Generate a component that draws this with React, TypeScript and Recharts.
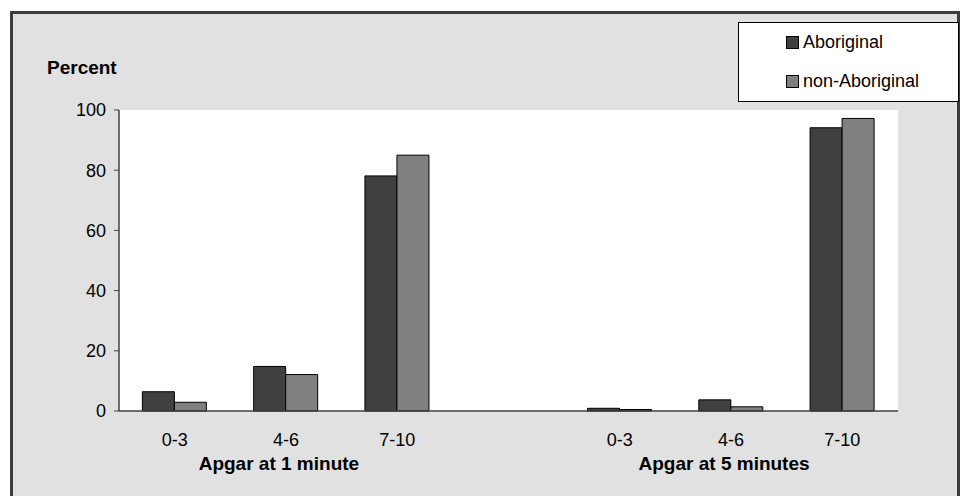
import { Bar, BarChart, CartesianGrid, XAxis, YAxis } from "recharts";

const categories = ["0-3", "4-6", "7-10", "", "0-3", "4-6", "7-10"];
const groupLabels = ["", "Apgar at 1 minute", "", "", "", "Apgar at 5 minutes", ""];
const aboriginal = [6.4, 14.8, 78.1, null, 0.9, 3.7, 94.1];
const nonAboriginal = [2.9, 12.1, 85.0, null, 0.5, 1.4, 97.2];
const yTicks = [0, 20, 40, 60, 80, 100];

const FONT = '"Liberation Sans", Arial, sans-serif';
const DARK = "#404040";
const LIGHT = "#808080";

const data = categories.map((c, i) => ({
  cat: c,
  group: groupLabels[i],
  aboriginal: aboriginal[i],
  nonAboriginal: nonAboriginal[i],
}));

const legendItems = [
  { label: "Aboriginal", color: DARK },
  { label: "non-Aboriginal", color: LIGHT },
];

function LegendBox() {
  return (
    <div
      style={{
        position: "absolute",
        left: 738,
        top: 22,
        width: 219,
        height: 78,
        border: "1px solid #000",
        background: "#fff",
        fontSize: 18,
        color: "#000",
      }}
    >
      {legendItems.map((it, i) => (
        <div
          key={it.label}
          style={{
            position: "absolute",
            left: 47,
            top: i === 0 ? 9 : 48,
            display: "flex",
            alignItems: "center",
            height: 20,
          }}
        >
          <span
            style={{
              display: "inline-block",
              width: 11,
              height: 11,
              background: it.color,
              border: "1px solid #000",
              marginRight: 4,
            }}
          />
          {it.label}
        </div>
      ))}
    </div>
  );
}

export default function App() {
  return (
    <div
      style={{
        position: "absolute",
        left: 0,
        top: 0,
        width: 960,
        height: 496,
        background: "#fff",
        overflow: "hidden",
        fontFamily: FONT,
      }}
    >
      <div
        style={{
          position: "absolute",
          left: 10,
          top: 11,
          width: 944,
          height: 500,
          background: "#e1e1e1",
          border: "3px solid #3c3c3c",
        }}
      />
      <div
        style={{
          position: "absolute",
          left: 47,
          top: 57,
          fontSize: 19,
          fontWeight: "bold",
          color: "#000",
        }}
      >
        Percent
      </div>
      <div style={{ position: "absolute", left: 0, top: 0 }}>
        <BarChart
          width={960}
          height={496}
          data={data}
          margin={{ top: 110, right: 62, left: 59, bottom: 21 }}
          barCategoryGap="21%"
          barGap={0}
        >
          <CartesianGrid fill="#fff" horizontal={false} vertical={false} />
          <XAxis
            dataKey="cat"
            interval={0}
            tickLine={false}
            tickSize={0}
            tickMargin={22}
            height={24}
            axisLine={{ stroke: DARK, strokeWidth: 1.5 }}
            tick={{ fill: "#000", fontSize: 18, fontFamily: FONT }}
          />
          <XAxis
            xAxisId="group"
            dataKey="group"
            interval={0}
            tickLine={false}
            axisLine={false}
            tickSize={0}
            tickMargin={22}
            height={40}
            dx={-7}
            tick={{ fill: "#000", fontSize: 19, fontWeight: "bold", fontFamily: FONT }}
          />
          <XAxis
            xAxisId="top"
            orientation="top"
            dataKey="cat"
            tick={false}
            tickLine={false}
            height={0}
            axisLine={{ stroke: LIGHT }}
          />
          <YAxis
            domain={[0, 100]}
            ticks={yTicks}
            width={60}
            tickSize={5}
            tickMargin={8}
            axisLine={{ stroke: DARK, strokeWidth: 1.5 }}
            tickLine={{ stroke: DARK }}
            tick={{ fill: "#000", fontSize: 18, fontFamily: FONT }}
          />
          <YAxis
            yAxisId="right"
            orientation="right"
            domain={[0, 100]}
            width={0}
            tick={false}
            tickLine={false}
            axisLine={{ stroke: LIGHT }}
          />
          <Bar
            dataKey="aboriginal"
            name="Aboriginal"
            fill={DARK}
            stroke="#000"
            strokeWidth={1}
            isAnimationActive={false}
          />
          <Bar
            dataKey="nonAboriginal"
            name="non-Aboriginal"
            fill={LIGHT}
            stroke="#000"
            strokeWidth={1}
            isAnimationActive={false}
          />
        </BarChart>
      </div>
      <LegendBox />
    </div>
  );
}
